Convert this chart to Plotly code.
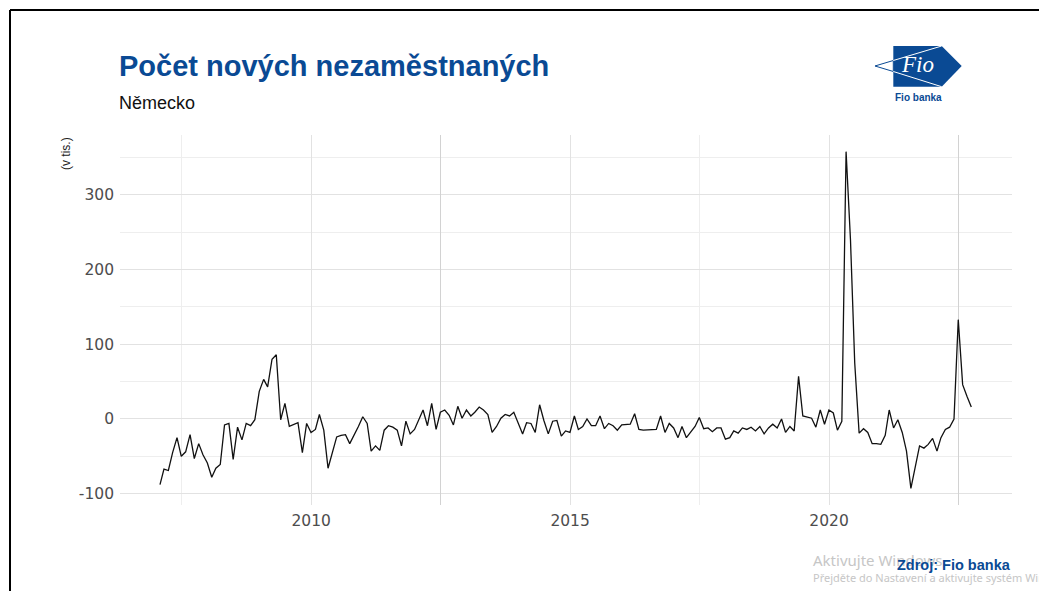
import pandas as pd
import plotly.graph_objects as go

# Monthly change in number of unemployed in Germany (thousands), Jan 2007 - Sep 2022
start_month = "2007-01-31"
end_month = "2022-09-30"
values = [
    -88, -67, -69, -45, -25, -50, -44, -21, -53, -33, -48, -59,   # 2007
    -78, -66, -61, -8, -6, -54, -11, -28, -6, -9, -1, 37,         # 2008
    53, 43, 80, 86, -1, 21, -10, -8, -5, -45, -6, -18,            # 2009
    -14, 6, -15, -66, -45, -24, -22, -21, -33, -22, -10, 3,       # 2010
    -6, -43, -36, -42, -15, -9, -11, -15, -36, -3, -20, -14,      # 2011
    -1, 12, -9, 21, -14, 9, 12, 5, -8, 17, 1, 12,                 # 2012
    4, 9, 16, 12, 6, -18, -10, 1, 6, 4, 9, -6,                    # 2013
    -20, -5, -6, -18, 19, -2, -20, -3, -2, -23, -16, -18,         # 2014
    4, -14, -10, 0, -9, -9, 4, -13, -6, -9, -15, -8,              # 2015
    -8, -7, 7, -14, -15, -15, -15, -14, 4, -18, -6, -12,          # 2016
    -25, -10, -25, -18, -10, 2, -13, -12, -17, -12, -12, -27,     # 2017
    -25, -16, -19, -12, -14, -11, -16, -10, -20, -12, -7, -12,    # 2018
    0, -18, -10, -16, 57, 4, 2, 1, -11, 12, -7, 12,               # 2019
    8, -15, -3, 358, 240, 75, -19, -13, -18, -33, -33, -34,       # 2020
    -22, 12, -12, -1, -18, -43, -93, -62, -36, -39, -34, -26,     # 2021
    -43, -25, -14, -11, 0, 133, 46, 30, 16,                       # 2022
]
dates = pd.date_range(start_month, end_month, freq="ME")

y_ticks = [-100, 0, 100, 200, 300]
y_tick_labels = ["-100", "0", "100", "200", "300"]
y_minor = [-50, 50, 150, 250, 350]
x_ticks = ["2010-01-01", "2015-01-01", "2020-01-01"]
x_tick_labels = ["2010", "2015", "2020"]
x_minor_light = ["2007-07-02", "2017-07-02"]
x_minor_dark = ["2012-07-02", "2022-07-02"]
x_range = ["2006-04-24", "2023-07-14"]

title_text = "Počet nových nezaměstnaných"
subtitle_text = "Německo"
y_title = "(v tis.)"
source_text = "Zdroj: Fio banka"

# reference-pixel layout (page has an 8px body margin)
OFF = 8
W, H = 1047 - OFF, 591 - OFF
L, R, T, B = 120, 1012, 135, 505
BLUE = "#0a4a94"


def px(x):
    return (x - L) / (R - L)


def py(y):
    return (B - y) / (B - T)


fig = go.Figure()
# invisible trace so the overlay axis (darker grid lines) is drawn
fig.add_trace(go.Scatter(x=[dates[0]], y=[values[0]], xaxis="x2", mode="lines",
                         line=dict(width=0), hoverinfo="skip", showlegend=False))
fig.add_trace(go.Scatter(
    x=dates, y=values, mode="lines",
    line=dict(color="#111111", width=1.3),
    hoverinfo="x+y", showlegend=False,
))

grid_major = "#e2e2e2"
grid_minor = "#eeeeee"
tick_font = dict(family="DejaVu Sans, Liberation Sans, sans-serif", size=15.5, color="#4d4d4d")

fig.update_layout(
    width=W, height=H,
    margin=dict(l=L - OFF, r=1047 - R, t=T - OFF, b=591 - B, pad=0),
    paper_bgcolor="white", plot_bgcolor="white",
    font=dict(family="Liberation Sans, Arial, sans-serif", color="#4d4d4d"),
    xaxis=dict(
        type="date", range=x_range,
        tickvals=x_ticks, ticktext=x_tick_labels,
        showgrid=True, gridcolor=grid_major, gridwidth=1,
        minor=dict(tickvals=x_minor_light, showgrid=True, gridcolor=grid_minor, gridwidth=1),
        zeroline=False, showline=False, ticks="",
        tickfont=tick_font, ticklabelstandoff=4,
    ),
    xaxis2=dict(
        type="date", range=x_range, overlaying="x", matches="x",
        tickvals=x_minor_dark, showticklabels=False,
        showgrid=True, gridcolor="#d2d2d2", gridwidth=1,
        zeroline=False, showline=False, ticks="",
    ),
    yaxis=dict(
        range=[-115.2, 380.3],
        tickvals=y_ticks, ticktext=y_tick_labels,
        showgrid=True, gridcolor=grid_major, gridwidth=1,
        minor=dict(tickvals=y_minor, showgrid=True, gridcolor=grid_minor, gridwidth=1),
        zeroline=False, showline=False, ticks="",
        tickfont=tick_font, ticklabelstandoff=5,
    ),
)

annotations = []
# Windows watermark (present in the reference screenshot)
annotations.append(dict(
    text="Aktivujte Windows", x=px(811), y=py(560), xref="paper", yref="paper",
    xanchor="left", yanchor="middle", showarrow=False,
    font=dict(family="Noto Sans, sans-serif", size=15, color="#c6c6c6"),
))
annotations.append(dict(
    text="Přejděte do Nastavení a aktivujte systém Windows.", x=px(811), y=py(577),
    xref="paper", yref="paper", xanchor="left", yanchor="middle", showarrow=False,
    font=dict(family="Noto Sans, sans-serif", size=11, color="#c6c6c6"),
))
annotations += [
    dict(text="<b>" + title_text + "</b>", x=px(117), y=py(66), xref="paper", yref="paper",
         xanchor="left", yanchor="middle", showarrow=False,
         font=dict(family="Liberation Sans, Arial, sans-serif", size=29, color=BLUE)),
    dict(text=subtitle_text, x=px(117), y=py(103), xref="paper", yref="paper",
         xanchor="left", yanchor="middle", showarrow=False,
         font=dict(family="Liberation Sans, Arial, sans-serif", size=18, color="#111111")),
    dict(text=y_title, x=px(66), y=py(154), xref="paper", yref="paper",
         xanchor="center", yanchor="middle", showarrow=False, textangle=-90,
         font=dict(family="Liberation Sans, Arial, sans-serif", size=12, color="#222222")),
    dict(text="<b>" + source_text + "</b>", x=px(1013), y=py(565), xref="paper", yref="paper",
         xanchor="right", yanchor="middle", showarrow=False,
         font=dict(family="Liberation Sans, Arial, sans-serif", size=14.5, color=BLUE)),
    # logo texts
    dict(text="<i>Fio</i>", x=px(917), y=py(65), xref="paper", yref="paper",
         xanchor="center", yanchor="middle", showarrow=False,
         font=dict(family="Liberation Serif, serif", size=23, color="white")),
    dict(text="<b>Fio banka</b>", x=px(918), y=py(98), xref="paper", yref="paper",
         xanchor="center", yanchor="middle", showarrow=False,
         font=dict(family="Liberation Sans, Arial, sans-serif", size=10, color=BLUE)),
]


def path(points):
    return "M " + " L ".join(f"{px(a):.5f},{py(b):.5f}" for a, b in points) + " Z"


shapes = [
    # logo: blue body
    dict(type="path", xref="paper", yref="paper",
         path=path([(893.3, 46), (941.7, 46), (961.7, 66), (941.7, 86.7), (893.3, 86.7)]),
         fillcolor=BLUE, line=dict(width=0), layer="above"),
    # logo: left outlined tip
    dict(type="path", xref="paper", yref="paper",
         path=path([(875, 66), (893.3, 60.5), (893.3, 71.5)]),
         fillcolor="white", line=dict(color=BLUE, width=1), layer="above"),
    dict(type="line", xref="paper", yref="paper", x0=px(893.3), y0=py(60.5), x1=px(941.7), y1=py(46),
         line=dict(color="white", width=1), layer="above"),
    dict(type="line", xref="paper", yref="paper", x0=px(893.3), y0=py(71.5), x1=px(941.7), y1=py(86.7),
         line=dict(color="white", width=1), layer="above"),
    # screenshot frame
    dict(type="line", xref="paper", yref="paper", x0=px(10), y0=py(10), x1=px(1060), y1=py(10),
         line=dict(color="black", width=2), layer="above"),
    dict(type="line", xref="paper", yref="paper", x0=px(10), y0=py(10), x1=px(10), y1=py(600),
         line=dict(color="black", width=2), layer="above"),
]

fig.update_layout(annotations=annotations, shapes=shapes)
fig.write_html("out.html")
